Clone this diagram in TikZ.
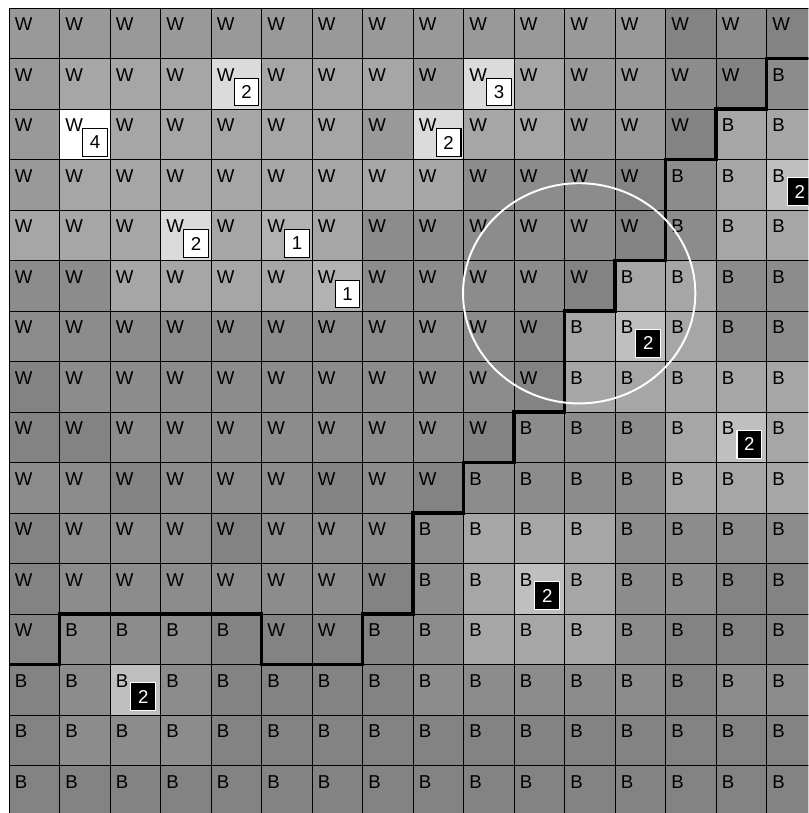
\documentclass[tikz,border=0pt]{standalone}
\usepackage{fontspec}
\setmainfont{Liberation Sans}
\definecolor{g0}{gray}{1.00}
\definecolor{g1}{gray}{0.86}
\definecolor{g2}{gray}{0.75}
\definecolor{g3}{gray}{0.70}
\definecolor{g4}{gray}{0.65}
\definecolor{g5}{gray}{0.60}
\definecolor{g6}{gray}{0.55}
\definecolor{g7}{gray}{0.515}
\begin{document}
\begin{tikzpicture}[font=\fontsize{10.5}{12}\selectfont,
 cell/.style={minimum size=1cm,inner sep=0pt,outer sep=0pt,anchor=north west},
 lbl/.style={anchor=north west,inner sep=0pt},
 wbadge/.style={draw=black,fill=white,line width=0.6pt,minimum width=0.49cm,minimum height=0.55cm,inner sep=0pt,anchor=south east},
 bbadge/.style={wbadge,draw=white,fill=black,text=white},
 border/.style={line width=2.2pt}]
 \useasboundingbox (-0.178,-15.94) rectangle (15.83,0.158);
 \clip (-0.178,-15.94) rectangle (15.83,0.158);
 % cells, row by row: shade/letter
 \foreach \r [count=\j from 0] in {
  {5/W,5/W,5/W,5/W,5/W,5/W,5/W,5/W,5/W,5/W,5/W,5/W,5/W,7/W,6/W,7/W},
  {5/W,4/W,4/W,4/W,1/W,4/W,4/W,4/W,5/W,1/W,4/W,5/W,5/W,6/W,7/W,6/B},
  {5/W,0/W,4/W,4/W,4/W,4/W,4/W,5/W,1/W,4/W,4/W,5/W,5/W,7/W,4/B,4/B},
  {5/W,4/W,4/W,4/W,4/W,4/W,4/W,4/W,4/W,6/W,6/W,6/W,7/W,6/B,4/B,2/B},
  {4/W,4/W,4/W,1/W,4/W,3/W,4/W,6/W,6/W,6/W,6/W,6/W,7/W,6/B,4/B,4/B},
  {6/W,6/W,4/W,4/W,4/W,4/W,3/W,6/W,6/W,6/W,6/W,7/W,4/B,4/B,6/B,6/B},
  {6/W,6/W,6/W,6/W,6/W,6/W,6/W,6/W,6/W,6/W,7/W,4/B,2/B,4/B,6/B,6/B},
  {7/W,6/W,6/W,6/W,6/W,6/W,6/W,6/W,6/W,6/W,7/W,4/B,4/B,4/B,4/B,4/B},
  {7/W,7/W,6/W,6/W,6/W,6/W,6/W,6/W,6/W,7/W,6/B,6/B,6/B,4/B,2/B,4/B},
  {6/W,6/W,7/W,6/W,6/W,6/W,7/W,6/W,7/W,6/B,6/B,6/B,6/B,4/B,4/B,4/B},
  {7/W,6/W,6/W,6/W,7/W,6/W,6/W,6/W,6/B,4/B,4/B,4/B,6/B,6/B,6/B,6/B},
  {7/W,6/W,6/W,6/W,6/W,6/W,6/W,7/W,6/B,4/B,2/B,4/B,6/B,6/B,7/B,7/B},
  {7/W,6/B,6/B,6/B,7/B,7/W,7/W,7/B,6/B,4/B,4/B,4/B,6/B,7/B,7/B,7/B},
  {7/B,6/B,2/B,6/B,7/B,7/B,7/B,7/B,6/B,6/B,6/B,6/B,6/B,7/B,6/B,6/B},
  {7/B,6/B,6/B,6/B,7/B,7/B,7/B,7/B,7/B,7/B,7/B,7/B,7/B,7/B,7/B,7/B},
  {7/B,7/B,7/B,7/B,7/B,7/B,7/B,7/B,7/B,7/B,7/B,7/B,7/B,7/B,7/B,7/B}}
  \foreach \s/\t [count=\i from 0] in \r
   \path (\i,-\j) node[cell,fill=g\s] (c-\i-\j) {}
    ([shift={(0.11,-0.19)}]\i,-\j) node[lbl] (t-\i-\j) {\t};
 \draw[line width=0.5pt] (0,-16) grid (16,0);
 % W / B boundary
 \draw[border] (16,-1) -- (15,-1) -- (15,-2) -- (14,-2) -- (14,-3) -- (13,-3)
  -- (13,-5) -- (12,-5) -- (12,-6) -- (11,-6) -- (11,-8) -- (10,-8) -- (10,-9)
  -- (9,-9) -- (9,-10) -- (8,-10) -- (8,-12) -- (7,-12) -- (7,-13) -- (5,-13)
  -- (5,-12) -- (1,-12) -- (1,-13) -- (0,-13);
 % counts
 \path ([shift={(-0.04,0.05)}]c-4-1.south east) node[wbadge] (n-4-1) {2}
  ([shift={(-0.04,0.05)}]c-9-1.south east) node[wbadge] (n-9-1) {3}
  ([shift={(-0.04,0.05)}]c-1-2.south east) node[wbadge] (n-1-2) {4}
  ([shift={(-0.04,0.05)}]c-8-2.south east) node[wbadge] (n-8-2) {2}
  ([shift={(-0.04,0.05)}]c-3-4.south east) node[wbadge] (n-3-4) {2}
  ([shift={(-0.04,0.05)}]c-5-4.south east) node[wbadge] (n-5-4) {1}
  ([shift={(-0.04,0.05)}]c-6-5.south east) node[wbadge] (n-6-5) {1};
 \path ([shift={(-0.085,0.075)}]c-15-3.south east) node[bbadge] (n-15-3) {2}
  ([shift={(-0.085,0.075)}]c-12-6.south east) node[bbadge] (n-12-6) {2}
  ([shift={(-0.085,0.075)}]c-14-8.south east) node[bbadge] (n-14-8) {2}
  ([shift={(-0.085,0.075)}]c-10-11.south east) node[bbadge] (n-10-11) {2}
  ([shift={(-0.085,0.075)}]c-2-13.south east) node[bbadge] (n-2-13) {2};
 \draw[white,line width=1.1pt] (11.29,-5.65) ellipse [x radius=2.30,y radius=2.18];
\end{tikzpicture}
\end{document}
